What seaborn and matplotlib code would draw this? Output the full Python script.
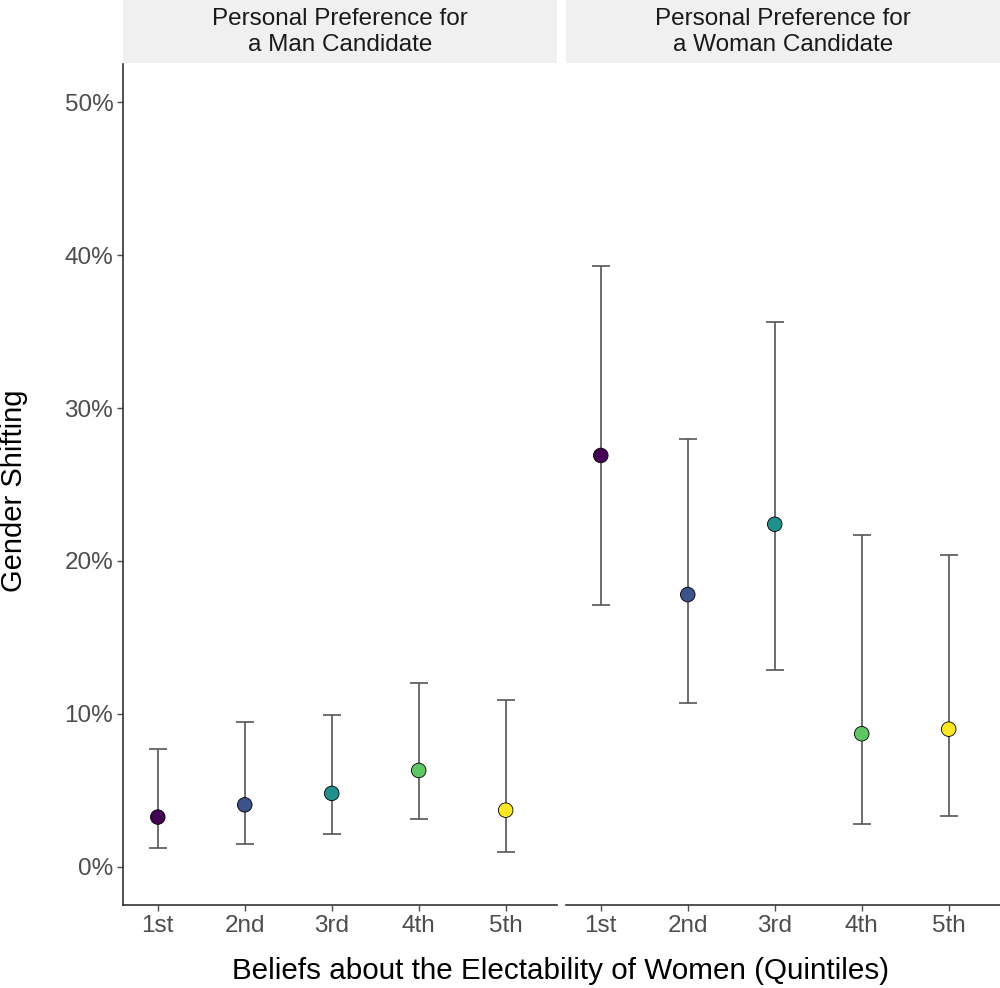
import numpy as np
import pandas as pd
import matplotlib
matplotlib.use("Agg")
import matplotlib.pyplot as plt
import seaborn as sns
from matplotlib.patches import Rectangle
from matplotlib.ticker import PercentFormatter

# data
quintiles = ["1st", "2nd", "3rd", "4th", "5th"]
panels = ["Personal Preference for\na Man Candidate",
          "Personal Preference for\na Woman Candidate"]
man_est = [3.25, 4.05, 4.8, 6.3, 3.7]
man_lo = [1.2, 1.5, 2.15, 3.1, 0.95]
man_hi = [7.7, 9.5, 9.9, 12.0, 10.9]
woman_est = [26.9, 17.8, 22.4, 8.7, 9.0]
woman_lo = [17.1, 10.7, 12.9, 2.8, 3.3]
woman_hi = [39.3, 28.0, 35.6, 21.7, 20.4]

colors = ["#440154", "#3B528B", "#21908C", "#5DC863", "#FDE725"]

df = pd.concat([
    pd.DataFrame({"panel": panels[0], "quintile": quintiles,
                  "est": man_est, "lo": man_lo, "hi": man_hi}),
    pd.DataFrame({"panel": panels[1], "quintile": quintiles,
                  "est": woman_est, "lo": woman_lo, "hi": woman_hi}),
])

sns.set_theme(style="white")
plt.rcParams["font.family"] = ["Liberation Sans", "DejaVu Sans"]

fig = plt.figure(figsize=(10, 9.88), dpi=100)
W, H = 1000, 988
panel_x = [(123, 557), (566, 1000)]
top, bottom = 64, 905

for i, (name, (x0, x1)) in enumerate(zip(panels, panel_x)):
    ax = fig.add_axes([x0 / W, (H - bottom) / H, (x1 - x0) / W, (bottom - top) / H])
    sub = df[df["panel"] == name].reset_index(drop=True)
    xpos = np.arange(len(sub))
    ax.errorbar(xpos, sub["est"], yerr=[sub["est"] - sub["lo"], sub["hi"] - sub["est"]],
                fmt="none", ecolor="#555555", elinewidth=1.2, capsize=6.5,
                capthick=1.2, zorder=1)
    sns.scatterplot(x=xpos, y=sub["est"], hue=sub["quintile"], palette=colors,
                    hue_order=quintiles, s=110, edgecolor="black", linewidth=0.6,
                    legend=False, ax=ax, zorder=2)
    ax.set_xlim(-0.4, 4.59)
    ax.set_ylim(-2.5, 52.5)
    ax.set_xticks(xpos)
    ax.set_xticklabels(quintiles)
    ax.set_yticks([0, 10, 20, 30, 40, 50])
    ax.yaxis.set_major_formatter(PercentFormatter(decimals=0))
    ax.set_xlabel("")
    ax.set_ylabel("")
    ax.tick_params(axis="both", colors="#4d4d4d", labelsize=17.5, length=4,
                   width=1, direction="out", bottom=True, left=(i == 0), pad=3)
    for s in ["top", "right"]:
        ax.spines[s].set_visible(False)
    ax.spines["bottom"].set_color("#333333")
    ax.spines["bottom"].set_linewidth(1.2)
    if i == 0:
        ax.spines["left"].set_color("#333333")
        ax.spines["left"].set_linewidth(1.2)
    else:
        ax.spines["left"].set_visible(False)
        ax.set_yticklabels([])
    # facet strip
    fig.patches.append(Rectangle((x0 / W, (H - 63) / H), (x1 - x0) / W, 63 / H,
                                 transform=fig.transFigure, facecolor="#f0f0f0",
                                 edgecolor="none"))
    fig.text((x0 + x1) / 2 / W, (H - 32) / H, name, ha="center", va="center",
             fontsize=17.5, color="#1a1a1a", linespacing=1.25)

fig.text(561 / W, (H - 971) / H, "Beliefs about the Electability of Women (Quintiles)",
         ha="center", va="center", fontsize=21.3, color="black")
fig.text(14 / W, (H - 491) / H, "Gender Shifting", ha="center", va="center",
         rotation=90, fontsize=21, color="black")

fig.savefig("out.png", dpi=100)
